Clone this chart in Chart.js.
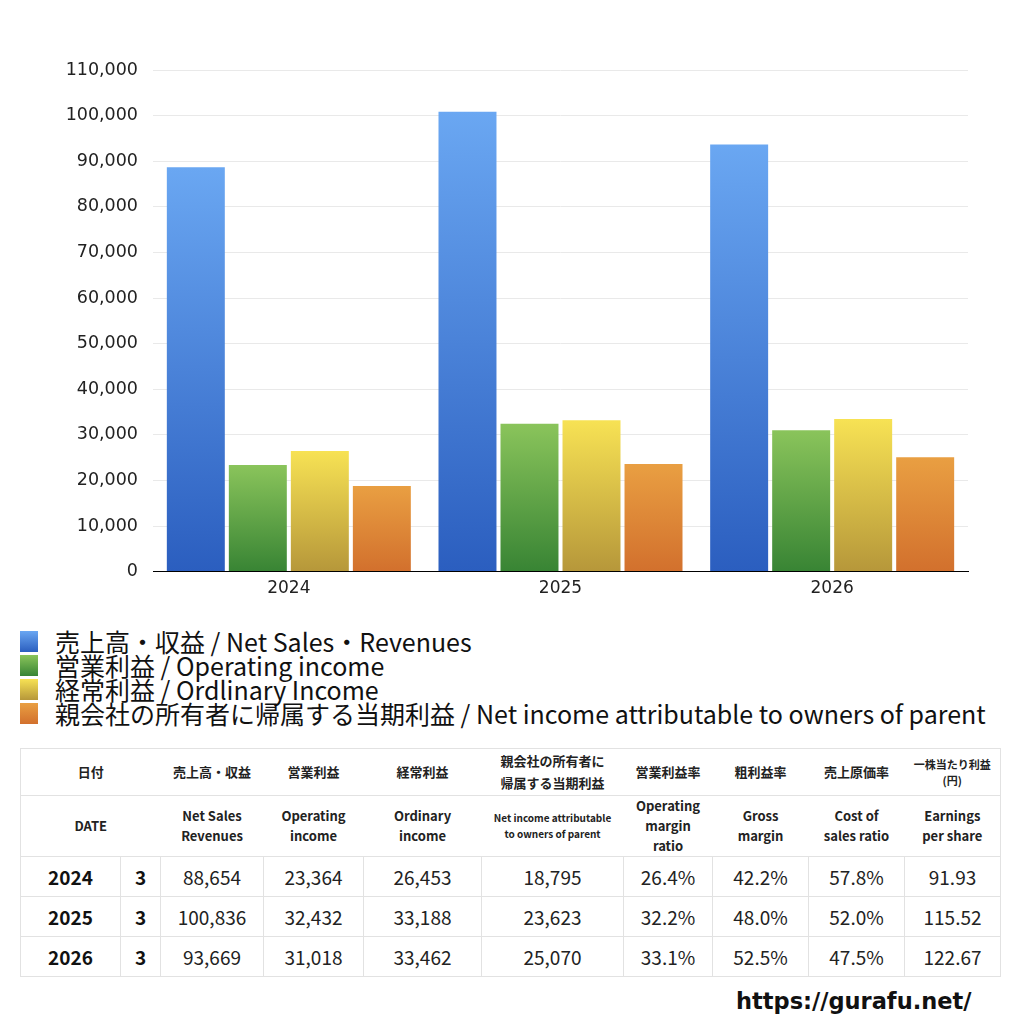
<!DOCTYPE html>
<html>
<head>
<meta charset="utf-8">
<script src="https://cdn.jsdelivr.net/npm/chart.js@4"></script>
<style>
  body { margin: 0; background: #fff; font-family: "Noto Sans CJK JP", "Liberation Sans", sans-serif; }
  #wrap { position: relative; width: 1024px; height: 1024px; overflow: hidden; }
  #chartBox { position: absolute; left: 0; top: 0; width: 1024px; height: 610px; }
  #legend { position: absolute; left: 20px; top: 629px; }
  .lg { display: flex; align-items: center; height: 24px; font-size: 25px; color: #111; white-space: nowrap; }
  .lg span.box { display: inline-block; width: 18px; height: 21px; margin-right: 17px; flex: none; }
  #tbl { position: absolute; left: 20px; top: 748px; border-collapse: collapse; table-layout: fixed; width: 980px; }
  #tbl td { border: 1px solid #e2e2e2; text-align: center; padding: 0; color: #222; }
  #tbl tr.h td { border-left: none; border-right: none; font-weight: bold; font-size: 13px; line-height: 20px; }
  #tbl tr.h td:first-child { border-left: 1px solid #e2e2e2; }
  #tbl tr.h td:last-child { border-right: 1px solid #e2e2e2; }
  #tbl tr.d td { height: 39px; font-size: 19px; }
  #tbl tr.d td.yr { font-weight: bold; color: #111; }
  #url { position: absolute; left: 736px; top: 988px; font-family: "DejaVu Sans", sans-serif; font-weight: bold; font-size: 22.5px; color: #111; }
</style>
</head>
<body>
<div id="wrap">
  <div id="chartBox"><canvas id="barChart"></canvas></div>
  <div id="legend"></div>
  <table id="tbl"></table>
  <div id="url">https://gurafu.net/</div>
</div>
<script>
// 年度
const years = ["2024", "2025", "2026"];
const months = [3, 3, 3];

// 系列
const netSales = [88654, 100836, 93669];
const opIncome = [23364, 32432, 31018];
const ordIncome = [26453, 33188, 33462];
const netIncome = [18795, 23623, 25070];

// 比率・一株当たり利益
const opMargin = [26.4, 32.2, 33.1];
const grossMargin = [42.2, 48.0, 52.5];
const costRatio = [57.8, 52.0, 47.5];
const eps = [91.93, 115.52, 122.67];

const seriesLabels = [
  "売上高・収益 / Net Sales・Revenues",
  "営業利益 / Operating income",
  "経常利益 / Ordlinary Income",
  "親会社の所有者に帰属する当期利益 / Net income attributable to owners of parent"
];
const seriesData = [netSales, opIncome, ordIncome, netIncome];
// [上, 下] のグラデーション色
const seriesColors = [
  ["#6aa7f2", "#2b5ebf"],
  ["#8ac45b", "#388434"],
  ["#f7e254", "#b6973a"],
  ["#e99f42", "#d2702d"]
];

const yTicksMax = 110000;
const yStep = 10000;

function barGradient(ctx, cols) {
  const chart = ctx.chart;
  if (!chart.chartArea || ctx.type !== 'data') return cols[1];
  const ys = chart.scales.y;
  const yTop = ys.getPixelForValue(ctx.raw);
  const yBot = ys.getPixelForValue(0);
  const g = chart.ctx.createLinearGradient(0, yTop, 0, yBot);
  g.addColorStop(0, cols[0]);
  g.addColorStop(1, cols[1]);
  return g;
}

new Chart(document.getElementById("barChart").getContext("2d"), {
  type: "bar",
  data: {
    labels: years,
    datasets: seriesData.map((d, i) => ({
      label: seriesLabels[i],
      data: d,
      backgroundColor: ctx => barGradient(ctx, seriesColors[i]),
      borderWidth: 0,
      categoryPercentage: 0.913,
      barPercentage: 0.935
    }))
  },
  options: {
    responsive: true,
    maintainAspectRatio: false,
    animation: false,
    layout: { padding: { top: 70, right: 56, left: 0, bottom: 4 } },
    plugins: {
      legend: { display: false },
      tooltip: { enabled: false }
    },
    scales: {
      x: {
        grid: { display: false, drawTicks: false },
        border: { color: "#000", width: 1 },
        ticks: { color: "#222", padding: 7, font: { family: "DejaVu Sans", size: 17 } }
      },
      y: {
        min: 0,
        max: yTicksMax,
        afterFit: s => { s.width = 153; },
        grid: { color: "#e9e9e9", drawTicks: false },
        border: { display: false },
        ticks: {
          stepSize: yStep,
          padding: 15,
          color: "#222",
          font: { family: "DejaVu Sans", size: 17.5 },
          callback: v => v.toLocaleString("en-US")
        }
      }
    }
  }
});

// 凡例
document.getElementById("legend").innerHTML = seriesLabels.map((t, i) =>
  `<div class="lg"><span class="box" style="background:linear-gradient(${seriesColors[i][0]}, ${seriesColors[i][1]})"></span>${t}</div>`
).join("");

// 表
const fmt = n => n.toLocaleString("en-US");
const colW = [100, 40, 103, 100, 118, 142, 89, 96, 96, 96];
let html = "<colgroup>" + colW.map(w => `<col style="width:${w}px">`).join("") + "</colgroup>";
html += `<tr class="h" style="height:47px">
  <td colspan="2">日付</td><td>売上高・収益</td><td>営業利益</td><td>経常利益</td>
  <td style="font-size:13px;line-height:22px">親会社の所有者に<br>帰属する当期利益</td>
  <td>営業利益率</td><td>粗利益率</td><td>売上原価率</td>
  <td style="font-size:11px;line-height:16px">一株当たり利益<br>(円)</td></tr>`;
html += `<tr class="h" style="height:61px">
  <td colspan="2">DATE</td><td>Net Sales<br>Revenues</td><td>Operating<br>income</td><td>Ordinary<br>income</td>
  <td style="font-size:10px;line-height:16px">Net income attributable<br>to owners of parent</td>
  <td>Operating<br>margin<br>ratio</td><td>Gross<br>margin</td><td>Cost of<br>sales ratio</td><td>Earnings<br>per share</td></tr>`;
years.forEach((y, i) => {
  html += `<tr class="d"><td class="yr">${y}</td><td class="yr">${months[i]}</td>
    <td>${fmt(netSales[i])}</td><td>${fmt(opIncome[i])}</td><td>${fmt(ordIncome[i])}</td><td>${fmt(netIncome[i])}</td>
    <td>${opMargin[i].toFixed(1)}%</td><td>${grossMargin[i].toFixed(1)}%</td><td>${costRatio[i].toFixed(1)}%</td>
    <td>${eps[i].toFixed(2)}</td></tr>`;
});
document.getElementById("tbl").innerHTML = html;
</script>
</body>
</html>
